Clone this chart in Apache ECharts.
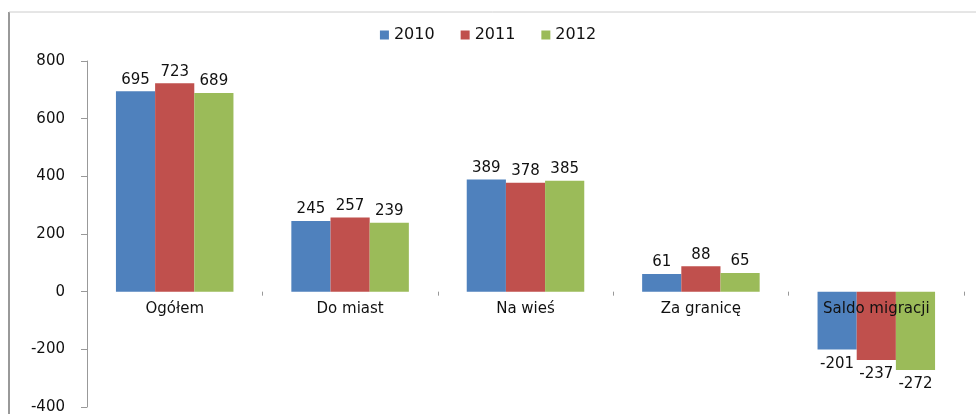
<!DOCTYPE html>
<html>
<head>
<meta charset="utf-8">
<script src="https://cdn.jsdelivr.net/npm/echarts@6/dist/echarts.min.js"></script>
<style>
  html, body { margin: 0; padding: 0; background: #fff; }
  #chart { width: 976px; height: 414px; }
</style>
</head>
<body>
<div id="chart"></div>
<script>
// dane
var categories = ['Ogółem', 'Do miast', 'Na wieś', 'Za granicę', 'Saldo migracji'];
var years = ['2010', '2011', '2012'];
var v2010 = [695, 245, 389, 61, -201];
var v2011 = [723, 257, 378, 88, -237];
var v2012 = [689, 239, 385, 65, -272];
var colors = ['#4F81BD', '#C0504D', '#9BBB59'];

var font = 'DejaVu Sans';
var yMin = -400, yMax = 800;
var gridTop = 61, gridBottom = 7, chartH = 414;

// etykiety kategorii przy linii zera (w v6 zostają na dole siatki)
var plotH = chartH - gridTop - gridBottom;
var zeroFromBottom = plotH * (0 - yMin) / (yMax - yMin);
var labelMargin = -Math.round(zeroFromBottom) + 10;

// ujemne wartości - etykieta pod słupkiem
function toData(arr) {
    return arr.map(function (v) {
        if (v < 0) return { value: v, label: { position: 'bottom', distance: 7 } };
        return v;
    });
}

function makeSeries(name, arr, i) {
    return {
        name: name,
        type: 'bar',
        data: toData(arr),
        barGap: '0%',
        barCategoryGap: '33%',
        itemStyle: { color: colors[i] },
        label: {
            show: true,
            position: 'top',
            distance: 4,
            color: '#111',
            fontFamily: font,
            fontSize: 15
        }
    };
}

var myChart = echarts.init(document.getElementById('chart'));
var option = {
    animation: false,
    color: colors,
    legend: {
        top: 22,
        left: 'center',
        itemWidth: 9,
        itemHeight: 9,
        itemGap: 26,
        icon: 'rect',
        textStyle: { fontFamily: font, fontSize: 16, color: '#111' },
        data: years
    },
    grid: { left: 87, right: 12, top: gridTop, bottom: gridBottom, outerBoundsMode: 'none' },
    xAxis: {
        type: 'category',
        data: categories,
        z: 10,
        axisLine: { show: true, onZero: true, lineStyle: { color: '#fff', opacity: 0 } },
        axisTick: { show: true, length: 4, lineStyle: { color: '#999' } },
        axisLabel: { show: true, interval: 0, margin: labelMargin, color: '#111', fontFamily: font, fontSize: 15 }
    },
    yAxis: {
        type: 'value',
        min: yMin,
        max: yMax,
        interval: 200,
        axisLine: { show: true, lineStyle: { color: '#999' } },
        axisTick: { show: true, length: 6, lineStyle: { color: '#999' } },
        splitLine: { show: false },
        axisLabel: { margin: 22, color: '#111', fontFamily: font, fontSize: 15 }
    },
    graphic: [
        { type: 'line', shape: { x1: 9, y1: 12, x2: 9, y2: 414 }, style: { stroke: '#999', lineWidth: 2 } },
        { type: 'line', shape: { x1: 9, y1: 12, x2: 976, y2: 12 }, style: { stroke: '#ccc', lineWidth: 1 } }
    ],
    series: [
        makeSeries(years[0], v2010, 0),
        makeSeries(years[1], v2011, 1),
        makeSeries(years[2], v2012, 2)
    ]
};
myChart.setOption(option);
</script>
</body>
</html>
